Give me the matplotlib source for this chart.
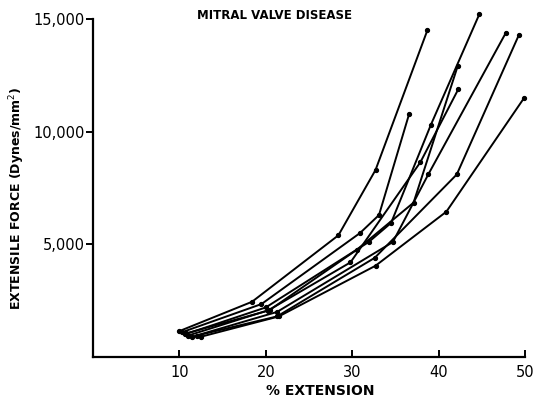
import matplotlib
matplotlib.use("Agg")
import matplotlib.pyplot as plt

# % extension / extensile force (dynes/mm^2), one list pair per valve specimen
x1 = [10.0, 18.4, 28.4, 32.7, 38.7]
y1 = [1150, 2450, 5400, 8300, 14500]
x2 = [10.3, 19.5, 30.9, 33.1, 36.6]
y2 = [1100, 2350, 5500, 6300, 10800]
x3 = [10.6, 20.0, 31.9, 34.5, 39.1, 44.7]
y3 = [1000, 2200, 5100, 5950, 10300, 15200]
x4 = [11.0, 20.5, 30.5, 37.1, 42.2]
y4 = [950, 2100, 4750, 6850, 12900]
x5 = [11.5, 21.3, 34.7, 38.8, 47.8]
y5 = [900, 2000, 5100, 8100, 14400]
x6 = [12.0, 21.3, 32.6, 42.1, 49.3]
y6 = [950, 1800, 4400, 8100, 14300]
x7 = [12.5, 21.5, 32.7, 40.9, 49.9]
y7 = [900, 1800, 4050, 6450, 11500]
x8 = [10.8, 20.2, 29.8, 37.9, 42.3]
y8 = [1050, 2050, 4200, 8650, 11900]

series = [(x1, y1), (x2, y2), (x3, y3), (x4, y4),
          (x5, y5), (x6, y6), (x7, y7), (x8, y8)]

xticks = [10, 20, 30, 40, 50]
yticks = [5000, 10000, 15000]
ytick_labels = ["5,000", "10,000", "15,000"]

fig = plt.figure(figsize=(5.36, 4.0), dpi=100)
ax = fig.add_axes([0.1735, 0.1075, 0.806, 0.845])

for xs, ys in series:
    ax.plot(xs, ys, color="black", lw=1.4, marker="o", ms=2.8, clip_on=False)

ax.set_xlim(0, 50)
ax.set_ylim(0, 15000)
ax.set_xticks(xticks)
ax.set_yticks(yticks)
ax.set_yticklabels(ytick_labels)
ax.spines["top"].set_visible(False)
ax.spines["right"].set_visible(False)
ax.spines["left"].set_linewidth(1.6)
ax.spines["bottom"].set_linewidth(1.6)
ax.tick_params(axis="x", direction="in", length=5, width=1.4, labelsize=10.5, pad=6)
ax.tick_params(axis="y", direction="out", length=5, width=1.4, labelsize=10.5, pad=1)

fig.text(0.513, 0.962, "MITRAL VALVE DISEASE", ha="center", va="center",
         fontsize=8.5, fontweight="bold")
fig.text(0.597, 0.022, "% EXTENSION", ha="center", va="center",
         fontsize=10, fontweight="bold")
fig.text(0.032, 0.505, "EXTENSILE FORCE (Dynes/mm$^2$)", ha="center", va="center",
         rotation=90, fontsize=9, fontweight="bold")

fig.savefig("out.png", dpi=100)
